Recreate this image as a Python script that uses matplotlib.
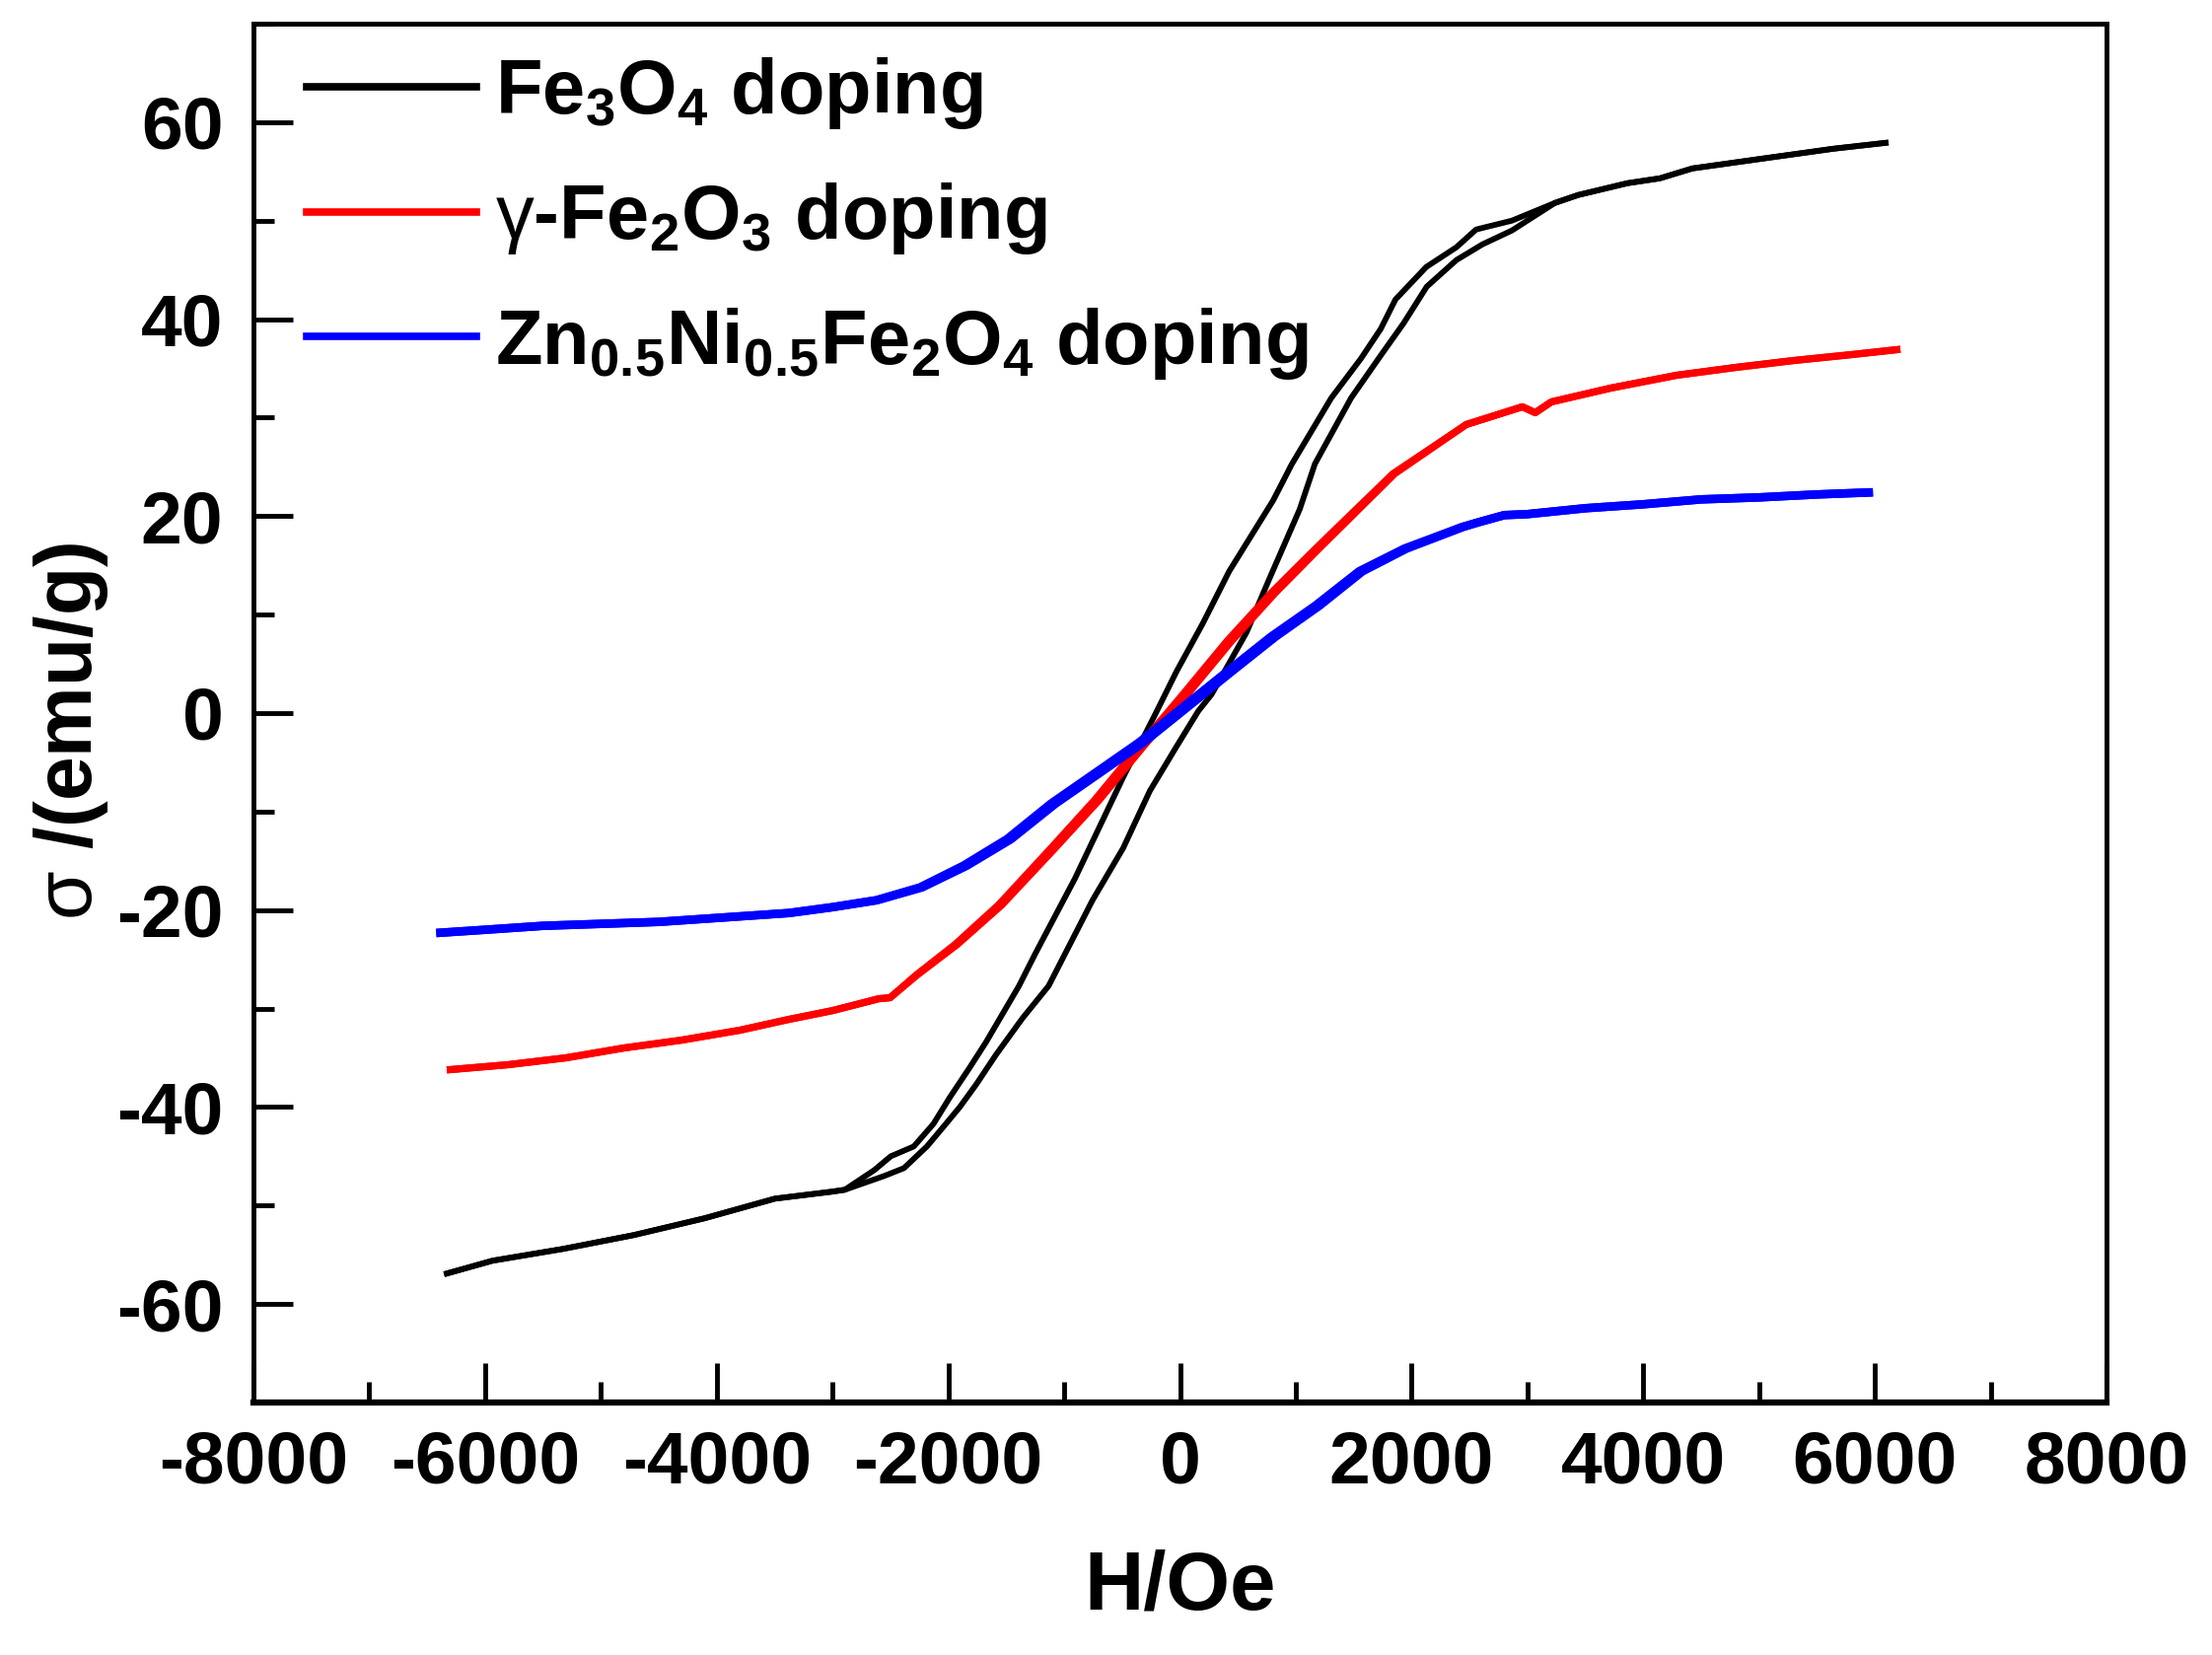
import matplotlib
matplotlib.use("Agg")
import matplotlib.pyplot as plt
from matplotlib.ticker import MultipleLocator

plt.rcParams['font.family'] = ['Liberation Sans', 'DejaVu Sans']
plt.rcParams['font.weight'] = 'bold'
plt.rcParams['mathtext.fontset'] = 'custom'
plt.rcParams['mathtext.rm'] = 'Liberation Sans:bold'
plt.rcParams['mathtext.bf'] = 'Liberation Sans:bold'
plt.rcParams['mathtext.it'] = 'Liberation Sans:bold'
plt.rcParams['mathtext.sf'] = 'Liberation Sans:weight=normal'
plt.rcParams['mathtext.default'] = 'bf'

# ---- data (H in Oe, sigma in emu/g) ----
# Fe3O4: descending branch (upper) and ascending branch (lower)
fe3o4_down_H = [6093, 5640, 5030, 4424, 4145, 3863, 3437, 3238, 2866, 2557, 2387, 2127,
                1861, 1733, 1563, 1307, 967, 805, 425, 197, -31, -221, -490, -907, -1248,
                -1390, -1674, -1816, -1986, -2128, -2298, -2497, -2639, -2894, -3010,
                -3497, -4107, -4716, -5325, -5935, -6330]
fe3o4_down_M = [57.9, 57.3, 56.3, 55.3, 54.3, 53.8, 52.6, 51.8, 50.0, 49.1, 47.3, 45.3,
                42.0, 39.0, 36.0, 32.0, 25.3, 21.6, 14.4, 9.1, 4.2, -0.3, -6.5, -16.8, -24.4,
                -27.7, -33.4, -36.0, -39.0, -41.7, -44.0, -45.0, -46.4, -48.4, -48.6,
                -49.3, -51.3, -53.0, -54.4, -55.6, -56.9]
fe3o4_up_H = [-6330, -5935, -5325, -4716, -4107, -3497, -3010, -2894, -2554, -2383, -2185,
              -2042, -1901, -1759, -1589, -1361, -1134, -755, -490, -260, -30, 158, 273,
              575, 767, 1034, 1165, 1478, 1733, 1932, 2131, 2387, 2613, 2866, 3238, 3437,
              3863, 4145, 4424, 5030, 5640, 6093]
fe3o4_up_M = [-56.9, -55.6, -54.4, -53.0, -51.3, -49.3, -48.6, -48.4, -47.0, -46.2, -44.0,
              -42.0, -40.0, -37.7, -34.7, -31.0, -27.7, -19.0, -13.7, -7.9, -3.4, 0.2, 1.9,
              8.2, 13.5, 20.7, 25.3, 32.0, 36.3, 39.6, 43.3, 46.0, 47.6, 49.0, 51.8, 52.6,
              53.8, 54.3, 55.3, 56.3, 57.3, 57.9]

# gamma-Fe2O3
fe2o3_H = [-6300, -5800, -5300, -4800, -4300, -3800, -3377, -2997, -2600, -2503, -2274,
           -1933, -1554, -1095, -715, -336, 45, 425, 805, 1186, 1846, 2472, 2956, 3068,
           3207, 3720, 4288, 4800, 5300, 5800, 6190]
fe2o3_M = [-36.2, -35.7, -35.0, -34.0, -33.2, -32.2, -31.1, -30.2, -29.0, -28.9, -26.6,
           -23.5, -19.5, -13.7, -8.8, -3.4, 1.9, 7.3, 12.2, 16.7, 24.3, 29.3, 31.1, 30.5,
           31.6, 33.0, 34.3, 35.1, 35.8, 36.4, 36.9]
fe2o3_shift = [0, 0, 0, 0, 0, 0, 0, 0, 0, 0, 5, 10, 15, 18, 20, 20, 20, 20, 18, 15, 8, 0,
               0, 0, 0, 0, 0, 0, 0, 0, 0]

# Zn0.5Ni0.5Fe2O4
znni_H = [-6385, -6000, -5500, -5000, -4500, -4000, -3377, -2997, -2619, -2236, -1856,
          -1476, -1095, -715, -336, 45, 425, 805, 1186, 1562, 1947, 2441, 2585, 2800, 3000,
          3500, 4000, 4500, 5000, 5500, 5947]
znni_M = [-22.3, -22.0, -21.6, -21.4, -21.2, -20.8, -20.3, -19.7, -19.0, -17.7, -15.5,
          -12.8, -9.2, -6.1, -3.0, 0.6, 4.2, 7.75, 10.9, 14.4, 16.7, 18.9, 19.4, 20.1, 20.2,
          20.8, 21.2, 21.7, 21.9, 22.2, 22.4]
znni_shift = [0, 0, 0, 0, 0, 0, 0, 0, 5, 10, 15, 18, 20, 20, 20, 20, 20, 20, 18, 15, 10,
              5, 0, 0, 0, 0, 0, 0, 0, 0, 0]

labels = ['Fe$_3$O$_4$ doping', r'$\mathsf{γ}$-Fe$_2$O$_3$ doping',
          'Zn$_{0.5}$Ni$_{0.5}$Fe$_2$O$_4$ doping']
colors = ['black', '#ff0000', '#0000ff']

xticks = [-8000, -6000, -4000, -2000, 0, 2000, 4000, 6000, 8000]
yticks = [-60, -40, -20, 0, 20, 40, 60]

fig = plt.figure(figsize=(22.43, 16.78), dpi=100)
ax = fig.add_axes([257/2243, 1 - 1422/1678, (2136-257)/2243, (1422-24)/1678])

ax.plot(fe3o4_down_H, fe3o4_down_M, color=colors[0], lw=4.2)
ax.plot(fe3o4_up_H, fe3o4_up_M, color=colors[0], lw=4.2)

red_down_H = [h - s for h, s in zip(fe2o3_H, fe2o3_shift)]
red_up_H = [h + s for h, s in zip(fe2o3_H, fe2o3_shift)]
ax.plot(red_down_H, fe2o3_M, color=colors[1], lw=5.2)
ax.plot(red_up_H, fe2o3_M, color=colors[1], lw=5.2)

blue_down_H = [h - s for h, s in zip(znni_H, znni_shift)]
blue_up_H = [h + s for h, s in zip(znni_H, znni_shift)]
ax.plot(blue_down_H, znni_M, color=colors[2], lw=6.2)
ax.plot(blue_up_H, znni_M, color=colors[2], lw=6.2)

ax.set_xlim(-8000, 8000)
ax.set_ylim(-70, 70)
ax.set_xticks(xticks)
ax.set_yticks(yticks)
ax.xaxis.set_minor_locator(MultipleLocator(1000))
ax.yaxis.set_minor_locator(MultipleLocator(10))
ax.set_xticklabels([str(v) for v in xticks])
ax.set_yticklabels([str(v) for v in yticks])

ax.tick_params(axis='both', which='major', direction='in', length=29, width=3.5,
               labelsize=54, pad=20)
ax.tick_params(axis='both', which='minor', direction='in', length=15, width=3.5)
ax.tick_params(axis='y', which='major', pad=22)
for lab in ax.get_xticklabels() + ax.get_yticklabels():
    lab.set_fontweight('bold')

for side in ['top', 'right', 'left']:
    ax.spines[side].set_linewidth(3.5)
ax.spines['bottom'].set_linewidth(4.5)

ax.set_xlabel('H/Oe', fontsize=60, fontweight='bold')
ax.set_ylabel(r'$\mathsf{σ}$ /(emu/g)', fontsize=58, fontweight='bold')
ax.xaxis.set_label_coords(0.5, -0.106)
ax.yaxis.set_label_coords(-0.077, 0.487)

leg_handles = [plt.Line2D([], [], color=c, lw=5.5) for c in colors]
leg = ax.legend(leg_handles, labels, loc='upper left', bbox_to_anchor=(0.029, 0.977),
                frameon=False, fontsize=56, handlelength=2.2, handletextpad=0.25,
                labelspacing=0.64, borderpad=0, borderaxespad=0)

fig.savefig('out.png', dpi=100)
